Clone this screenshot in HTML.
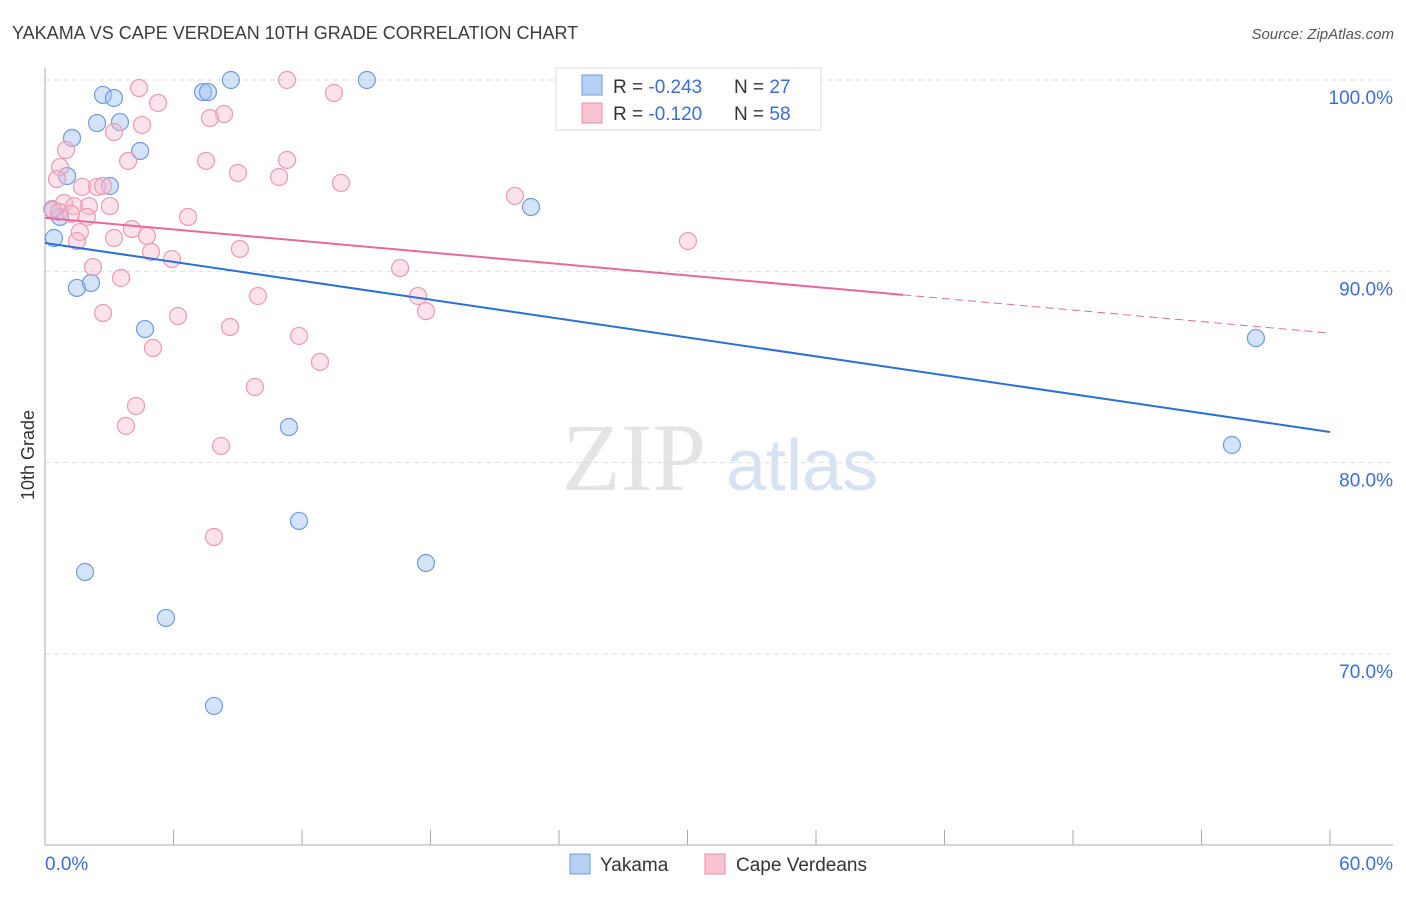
<!DOCTYPE html>
<html><head><meta charset="utf-8"><style>
body{margin:0;background:#fff;font-family:"Liberation Sans",sans-serif;}
</style></head><body>
<svg id="chart" width="1406" height="892" xmlns="http://www.w3.org/2000/svg" font-family="Liberation Sans, sans-serif">
<text x="12" y="39" font-size="18" fill="#3c3c3c">YAKAMA VS CAPE VERDEAN 10TH GRADE CORRELATION CHART</text>
<text x="1394" y="39" font-size="15" fill="#555" font-style="italic" text-anchor="end">Source: ZipAtlas.com</text>
<g>
<text x="634" y="490" font-size="96" font-family="Liberation Serif, serif" fill="#e4e4e4" text-anchor="middle">ZIP</text>
<text x="802" y="490" font-size="72" fill="#d6e3f4" text-anchor="middle">atlas</text>
</g>
<g id="grid"></g>
<g id="axes"></g>
<g id="marks"></g>
<text transform="translate(34,455) rotate(-90)" font-size="18" fill="#333" text-anchor="middle">10th Grade</text>
<g>
<rect x="556" y="68" width="265" height="62" fill="#fff" stroke="#ddd"/>
<rect x="582" y="75" width="20" height="20" fill="#b6d0f3" stroke="#6f9be0"/>
<rect x="582" y="103" width="20" height="20" fill="#f9c3d2" stroke="#e88aa6"/>
<text x="613" y="93" font-size="19" fill="#333">R = <tspan fill="#3a6fd8">-0.243</tspan><tspan x="734">N = </tspan><tspan fill="#3a6fd8">27</tspan></text>
<text x="613" y="120" font-size="19" fill="#333">R = <tspan fill="#3a6fd8"> -0.120</tspan><tspan x="734">N = </tspan><tspan fill="#3a6fd8">58</tspan></text>
</g>
<g>
<rect x="570" y="854" width="20" height="20" fill="#b6d0f3" stroke="#6f9be0"/>
<text x="600" y="871" font-size="19" fill="#333">Yakama</text>
<rect x="705" y="854" width="20" height="20" fill="#f9c3d2" stroke="#e88aa6"/>
<text x="736" y="871" font-size="19" fill="#333">Cape Verdeans</text>
</g>
</svg>
<script>
const yTicks=[100,90,80,70];
const yTickLabels=["100.0%","90.0%","80.0%","70.0%"];
const xTickLabels=["0.0%","60.0%"];
const blueX=[2.71,3.22,2.43,3.50,1.26,4.44,1.03,3.03,0.37,0.70,0.42,1.49,2.15,4.67,5.65,1.87,7.89,11.39,11.86,17.79,22.69,56.54,55.42,8.68,7.38,7.61,15.03];
const blueY=[99.22,99.06,97.75,97.80,96.97,96.29,94.98,94.46,93.2,92.84,91.74,89.13,89.39,86.98,71.88,74.28,67.28,81.86,76.95,74.75,93.36,86.51,80.92,100,99.37,99.37,100];
const pinkX=[4.39,11.30,13.49,5.28,8.36,7.70,4.53,3.22,0.98,3.88,7.52,11.30,0.70,9.01,10.93,13.82,0.56,1.73,2.43,2.71,21.94,3.03,0.89,2.05,1.35,0.33,0.65,1.21,1.96,6.68,4.06,1.63,3.22,4.76,1.49,30.02,9.10,4.95,5.93,2.24,16.58,3.55,9.94,17.42,2.71,6.21,17.79,8.64,11.86,5.04,12.84,9.80,4.25,3.78,8.22,7.89];
const pinkY=[99.58,100,99.32,98.80,98.22,98.01,97.65,97.28,96.34,95.77,95.77,95.82,95.45,95.14,94.93,94.62,94.82,94.41,94.41,94.46,93.94,93.41,93.57,93.41,93.41,93.26,93.1,93.0,92.84,92.84,92.21,92.05,91.74,91.85,91.58,91.58,91.17,91.01,90.64,90.22,90.17,89.65,88.71,88.71,87.82,87.66,87.92,87.09,86.62,85.99,85.26,83.95,82.96,81.92,80.87,76.11];
const blueTrend=[91.48,81.6];
const pinkTrend=[92.79,86.77];
const pinkSolidEnd=40.07;

const NS="http://www.w3.org/2000/svg";
const xs=v=>45+v/60*1285;
const ys=v=>80+(100-v)*19.13;
function mk(tag,attrs,parent){const e=document.createElementNS(NS,tag);for(const k in attrs)e.setAttribute(k,attrs[k]);document.getElementById(parent).appendChild(e);return e;}
yTicks.forEach((t,i)=>{
  const l=mk('line',{x1:45,x2:1393,y1:ys(t),y2:ys(t),stroke:'#ddd','stroke-dasharray':'5,4'},'grid');
  
  
  const tx=mk('text',{x:1393,y:ys(t)+24,'font-size':19,fill:'#3a6fd8','text-anchor':'end'},'axes');
  tx.textContent=yTickLabels[i];
  
  
});
let a=mk('line',{x1:45,x2:45,y1:68,y2:845,stroke:'#aaa'},'axes');


a=mk('line',{x1:45,x2:1393,y1:845,y2:845,stroke:'#aaa'},'axes');


for(let i=0;i<=10;i++){
  const t=mk('line',{x1:xs(i*6),x2:xs(i*6),y1:830,y2:845,stroke:'#aaa'},'axes');
  
  
}
[[0,'start',45],[60,'end',1393]].forEach((d,i)=>{
  const t=mk('text',{x:d[2],y:870,'font-size':19,fill:'#3a6fd8','text-anchor':d[1]},'axes');
  t.textContent=xTickLabels[i];
  
  
});
blueX.forEach((x,i)=>{
  const c=mk('circle',{cx:xs(x),cy:ys(blueY[i]),r:8.5,fill:'rgba(160,195,240,0.45)',stroke:'#6f9be0','stroke-width':1.2},'marks');
  
  
});
pinkX.forEach((x,i)=>{
  const c=mk('circle',{cx:xs(x),cy:ys(pinkY[i]),r:8.5,fill:'rgba(248,185,205,0.4)',stroke:'#ec9ab3','stroke-width':1.2},'marks');
  
  
});
let ln=mk('line',{x1:xs(0),y1:ys(blueTrend[0]),x2:xs(60),y2:ys(blueTrend[1]),stroke:'#2a6fd6','stroke-width':2},'marks');


const pAt=x=>pinkTrend[0]+(pinkTrend[1]-pinkTrend[0])*x/60;
ln=mk('line',{x1:xs(0),y1:ys(pinkTrend[0]),x2:xs(pinkSolidEnd),y2:ys(pAt(pinkSolidEnd)),stroke:'#e8699a','stroke-width':2},'marks');


ln=mk('line',{x1:xs(pinkSolidEnd),y1:ys(pAt(pinkSolidEnd)),x2:xs(60),y2:ys(pinkTrend[1]),stroke:'#e8699a','stroke-width':1,'stroke-dasharray':'8,5'},'marks');


</script>
</body></html>
